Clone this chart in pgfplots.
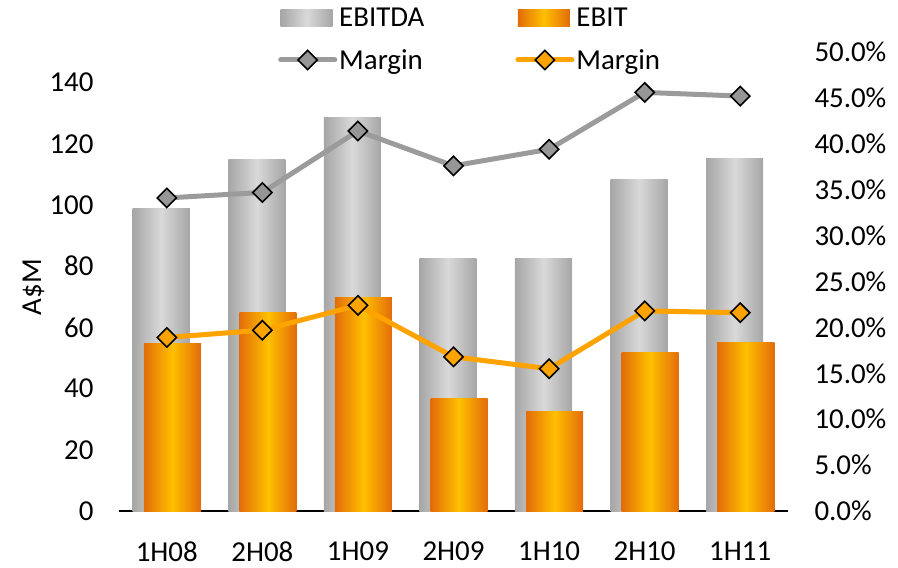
\documentclass[border=0pt]{standalone}
\usepackage{fontspec}
\setmainfont{Carlito}
\usepackage{pgfplots}
\pgfplotsset{compat=1.18}
\usepackage{pgfplotstable}

\definecolor{barGrayEdge}{RGB}{166,166,166}
\definecolor{barGrayMid}{RGB}{217,217,217}
\definecolor{barOrgEdge}{RGB}{227,108,10}
\definecolor{barOrgMid}{RGB}{255,192,0}
\definecolor{lineGray}{RGB}{155,155,155}
\definecolor{markGray}{RGB}{150,150,150}
\definecolor{lineOrg}{RGB}{255,163,0}

% half-year results, A$M and margin in %
\pgfplotstableread{
idx ebitda ebit mebitda mebit
0   98.7   54.8 34.1    18.9
1   114.8  64.9 34.7    19.7
2   128.5  69.8 41.4    22.4
3   82.6   36.7 37.6    16.8
4   82.6   32.5 39.4    15.5
5   108.2  51.8 45.6    21.8
6   115.1  55.1 45.2    21.6
}\results

\newcommand\chartfont{\fontsize{29}{34}\selectfont}

\pgfplotsset{
  base/.style={
    at={(0,0)}, anchor=south west,
    scale only axis, width=669bp, height=459bp,
    xmin=-0.5, xmax=6.5, ymin=0,
    major tick length=0pt,
    tick style={draw=none},
    tick label style={font=\chartfont},
    /pgf/number format/assume math mode=true,
  },
  marginline/.style 2 args={
    color=#1, line width=5bp, mark=square*, mark size=6.8bp,
    mark options={rotate=45, draw=black, fill=#2, line width=1.6bp, solid},
  },
}

\begin{document}
\begin{tikzpicture}
\useasboundingbox (-119bp,-57bp) rectangle (779bp,511bp);

\begin{axis}[
  base,
  ymax=150,
  ytick={0,20,...,140},
  xtick={0,...,6},
  xticklabels={1H08,2H08,1H09,2H09,1H10,2H10,1H11},
  axis x line*=bottom, axis y line*=left,
  x axis line style={-, black, line width=1.3bp},
  y axis line style={draw=none},
  xticklabel style={yshift=-27bp},
  yticklabel style={xshift=-22bp},
  ylabel={A\$M},
  ylabel style={font=\chartfont, at={(axis description cs:-0.128,0.488)}, anchor=center},
  ybar, bar width=0.597,
]
% each bar is its own path so that the shading runs across every bar
\pgfplotsinvokeforeach{0,...,6}{
  \addplot[forget plot, draw=none, left color=barGrayEdge, right color=barGrayEdge,
    middle color=barGrayMid, bar shift=-0.058, restrict x to domain=#1:#1]
    table[x=idx, y=ebitda] {\results};
}
\pgfplotsinvokeforeach{0,...,6}{
  \addplot[forget plot, draw=none, left color=barOrgEdge, right color=barOrgEdge,
    middle color=barOrgMid, bar shift=0.058, restrict x to domain=#1:#1]
    table[x=idx, y=ebit] {\results};
}
\end{axis}

\begin{axis}[
  base,
  ymax=50,
  ytick={0,5,...,50},
  axis y line*=right, axis x line=none,
  y axis line style={draw=none},
  yticklabel style={xshift=23bp},
  yticklabel={\pgfmathprintnumber[fixed,fixed zerofill,precision=1]{\tick}\%},
  legend columns=2,
  legend style={draw=none, fill=none, font=\chartfont,
    at={(axis description cs:0.2377,1.1)}, anchor=north west,
    inner sep=0pt, row sep=17bp,
    /tikz/every even column/.append style={column sep=89bp}},
  legend cell align=left,
]
\addlegendimage{legend image code/.code={
  \path[draw=none, left color=barGrayEdge, right color=barGrayEdge, middle color=barGrayMid]
    (0bp,-8.5bp) rectangle (52bp,8.5bp);}}
\addlegendentry{EBITDA}
\addlegendimage{legend image code/.code={
  \path[draw=none, left color=barOrgEdge, right color=barOrgEdge, middle color=barOrgMid]
    (0bp,-8.5bp) rectangle (52bp,8.5bp);}}
\addlegendentry{EBIT}
\addplot[marginline={lineGray}{markGray},
  legend image code/.code={\draw[mark repeat=2, mark phase=2, line cap=round]
    plot coordinates {(0bp,0bp) (27bp,0bp) (54bp,0bp)};}]
  table[x=idx, y=mebitda] {\results};
\addlegendentry{Margin}
\addplot[marginline={lineOrg}{lineOrg},
  legend image code/.code={\draw[mark repeat=2, mark phase=2, line cap=round]
    plot coordinates {(0bp,0bp) (27bp,0bp) (54bp,0bp)};}]
  table[x=idx, y=mebit] {\results};
\addlegendentry{Margin}
\end{axis}
\end{tikzpicture}
\end{document}
